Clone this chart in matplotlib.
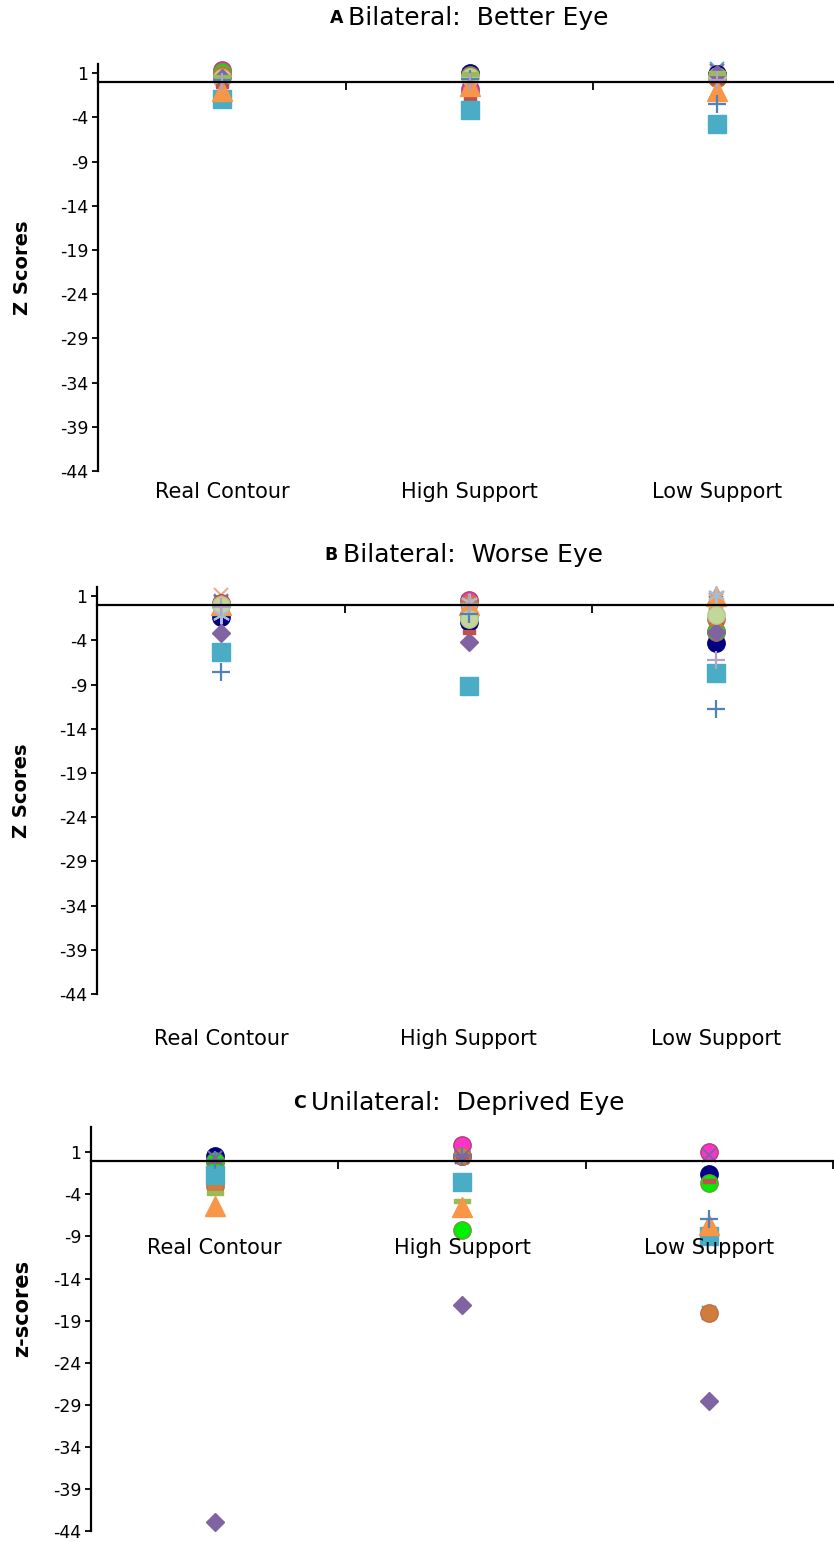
import numpy as np
import matplotlib
matplotlib.use("Agg")
import matplotlib.pyplot as plt

plt.rcParams["font.family"] = ["DejaVu Sans"]
plt.rcParams["axes.unicode_minus"] = False

categories = ["Real Contour", "High Support", "Low Support"]
y_ticks = [1, -4, -9, -14, -19, -24, -29, -34, -39, -44]

# Panel A - bilateral, better eye  [Real Contour, High Support, Low Support]
a_teal_x = [0.6, 0.8, 1.5]
a_purple_x = [0.4, 0.4, 1.2]
a_salmon_x = [0.8, 0.5, 0.9]
a_steel_star = [0.3, 0.3, 0.6]
a_navy = [-1.9, 1.0, 0.9]
a_magenta = [1.4, -0.8, 0.6]
a_green = [1.1, 0.8, 0.4]
a_peru = [0.8, 0.7, 0.5]
a_sage = [0.5, 0.6, 0.7]
a_diamond = [0.4, -1.1, 0.9]
a_red_dash = [-0.5, -1.9, 0.0]
a_olive_dash = [0.6, 0.9, 1.0]
a_square = [-1.9, -3.2, -4.8]
a_triangle = [-1.0, -0.4, -1.0]
a_blue_plus = [0.2, 0.3, -2.5]
a_lilac_plus = [0.0, 0.0, 0.2]

# Panel B - bilateral, worse eye
b_teal_x = [0.5, 0.3, 0.6]
b_purple_x = [0.3, 0.2, 0.2]
b_salmon_x = [1.1, 0.2, 0.5]
b_steel_star = [-1.1, 0.3, 1.1]
b_navy = [-1.4, -1.9, -4.3]
b_magenta = [0.2, 0.6, -3.1]
b_green = [0.0, -1.5, -2.9]
b_peru = [0.1, 0.2, -1.6]
b_diamond = [-3.2, -4.2, -3.1]
b_red_dash = [-0.5, -3.0, -1.8]
b_olive_dash = [0.0, -1.0, -0.9]
b_square = [-5.3, -9.2, -7.7]
b_triangle = [0.0, 0.0, 1.0]
b_sage = [0.0, -1.6, -1.1]
b_blue_plus = [-7.6, -1.0, -11.8]
b_lilac_plus = [-0.2, 0.1, -6.2]

# Panel C - unilateral, deprived eye
c_teal_x = [-0.1, 0.5, -18.1]
c_purple_x = [0.3, 0.4, 0.7]
c_navy = [0.5, 0.6, -1.6]
c_magenta = [-0.1, 1.9, 1.0]
c_green = [0.0, -8.2, -2.6]
c_peru = [-3.0, 0.6, -18.1]
c_diamond = [-42.9, -17.1, -28.6]
c_red_dash = [0.0, 0.5, -2.4]
c_olive_dash = [-3.8, -4.8, -8.6]
c_square = [-1.7, -2.5, -8.9]
c_triangle = [-5.4, -5.5, -7.7]
c_blue_plus = [0.1, 0.6, -6.9]

dash = [(-1, -0.3), (1, -0.3), (1, 0.3), (-1, 0.3), (-1, -0.3)]
styles = {
    "teal_x": dict(marker="x", ms=10.5, mew=1.5, color="#4BACC6"),
    "purple_x": dict(marker="x", ms=10.5, mew=1.5, color="#8064A2"),
    "salmon_x": dict(marker="x", ms=10.5, mew=1.5, color="#F2A98A"),
    "steel_star": dict(marker=(6, 2, 0), ms=12.5, mew=1.5, color="#A9BCD6"),
    "navy": dict(marker="o", ms=12.5, color="#000080", mec="#000080"),
    "magenta": dict(marker="o", ms=12.5, color="#FF33CC", mec="#B0406A"),
    "green": dict(marker="o", ms=12.5, color="#00EE00", mec="#6E9A3A"),
    "peru": dict(marker="o", ms=12.5, color="#D07C3C", mec="#C07040"),
    "sage": dict(marker="o", ms=12.5, color="#C4D79B", mec="#B8CC90"),
    "diamond": dict(marker="D", ms=8.8, color="#8064A2", mec="#8064A2"),
    "red_dash": dict(marker=dash, ms=8, color="#C0504D", mec="#C0504D"),
    "olive_dash": dict(marker=dash, ms=11.5, color="#9BBB59", mec="#9BBB59"),
    "square": dict(marker="s", ms=12.5, color="#4BACC6", mec="#4BACC6"),
    "triangle": dict(marker="^", ms=14, color="#F79646", mec="#F79646"),
    "blue_plus": dict(marker="+", ms=12.5, mew=1.6, color="#4F81BD"),
    "lilac_plus": dict(marker="+", ms=12.5, mew=1.6, color="#B3A2C7"),
}

panel_a = [("teal_x", a_teal_x), ("purple_x", a_purple_x), ("salmon_x", a_salmon_x),
           ("steel_star", a_steel_star), ("navy", a_navy), ("magenta", a_magenta),
           ("green", a_green), ("peru", a_peru), ("sage", a_sage), ("diamond", a_diamond),
           ("red_dash", a_red_dash), ("olive_dash", a_olive_dash), ("square", a_square),
           ("triangle", a_triangle), ("blue_plus", a_blue_plus), ("lilac_plus", a_lilac_plus)]
panel_b = [("teal_x", b_teal_x), ("purple_x", b_purple_x), ("salmon_x", b_salmon_x),
           ("navy", b_navy), ("magenta", b_magenta), ("green", b_green), ("peru", b_peru),
           ("diamond", b_diamond), ("red_dash", b_red_dash), ("olive_dash", b_olive_dash),
           ("square", b_square), ("triangle", b_triangle), ("sage", b_sage),
           ("steel_star", b_steel_star), ("blue_plus", b_blue_plus), ("lilac_plus", b_lilac_plus)]
panel_c = [("teal_x", c_teal_x), ("navy", c_navy), ("magenta", c_magenta), ("green", c_green),
           ("peru", c_peru), ("diamond", c_diamond), ("olive_dash", c_olive_dash),
           ("square", c_square), ("triangle", c_triangle), ("red_dash", c_red_dash),
           ("blue_plus", c_blue_plus), ("purple_x", c_purple_x)]

W, H = 834, 1542
fig = plt.figure(figsize=(W / 100, H / 100), dpi=100)


def make_axes(left_px, right_px, top_px, bottom_px):
    return fig.add_axes([left_px / W, 1 - bottom_px / H,
                         (right_px - left_px) / W, (bottom_px - top_px) / H])


def style_axes(ax, ylim, ylabel, label_x, label_y=0.5, label_size=14):
    x = np.arange(len(categories))
    ax.set_xlim(-0.5, len(categories) - 0.5)
    ax.set_ylim(*ylim)
    for side in ("top", "right"):
        ax.spines[side].set_visible(False)
    ax.spines["bottom"].set_position(("data", 0))
    ax.spines["bottom"].set_linewidth(1.6)
    ax.spines["left"].set_linewidth(1.6)
    ax.set_xticks(x + 0.5)
    ax.set_xticklabels([])
    ax.tick_params(axis="x", direction="out", length=6, width=1.3)
    ax.set_yticks(y_ticks)
    ax.set_yticklabels([str(v) for v in y_ticks])
    ax.tick_params(axis="y", direction="out", length=4, width=1.3, labelsize=12.5, pad=3)
    ax.text(label_x, label_y, ylabel, transform=ax.transAxes,
            rotation=90, ha="center", va="center", fontsize=label_size, fontweight="bold")


def draw_series(ax, series):
    x = np.arange(len(categories))
    for name, values in series:
        ax.plot(x, values, linestyle="none", clip_on=False, **styles[name])


# Panel A
ax_a = make_axes(98, 841, 64.3, 471)
style_axes(ax_a, (-44, 2), "Z Scores", -0.102)
draw_series(ax_a, panel_a)
for i, cat in enumerate(categories):
    ax_a.text(i, -0.052, cat, transform=ax_a.get_xaxis_transform(),
              ha="center", va="center", fontsize=15)

# Panel B
ax_b = make_axes(97, 840, 587.3, 994)
style_axes(ax_b, (-44, 2), "Z Scores", -0.101)
draw_series(ax_b, panel_b)
for i, cat in enumerate(categories):
    ax_b.text(i, -0.11, cat, transform=ax_b.get_xaxis_transform(),
              ha="center", va="center", fontsize=15)

# Panel C
ax_c = make_axes(91, 833, 1127, 1531)
style_axes(ax_c, (-44, 4), "z-scores", -0.093, label_y=0.55, label_size=15)
draw_series(ax_c, panel_c)
for i, cat in enumerate(categories):
    ax_c.text(i, -10.4, cat, ha="center", va="center", fontsize=15)

titles = [("A", "Bilateral:  Better Eye", 343, 18),
          ("B", "Bilateral:  Worse Eye", 338, 555),
          ("C", "Unilateral:  Deprived Eye", 306, 1103)]
for letter, text, x_px, y_px in titles:
    fig.text(x_px / W, 1 - y_px / H, letter, ha="right", va="center",
             fontsize=12.5, fontweight="bold")
    fig.text((x_px + 5) / W, 1 - y_px / H, text, ha="left", va="center", fontsize=18)

fig.savefig("out.png", dpi=100)
